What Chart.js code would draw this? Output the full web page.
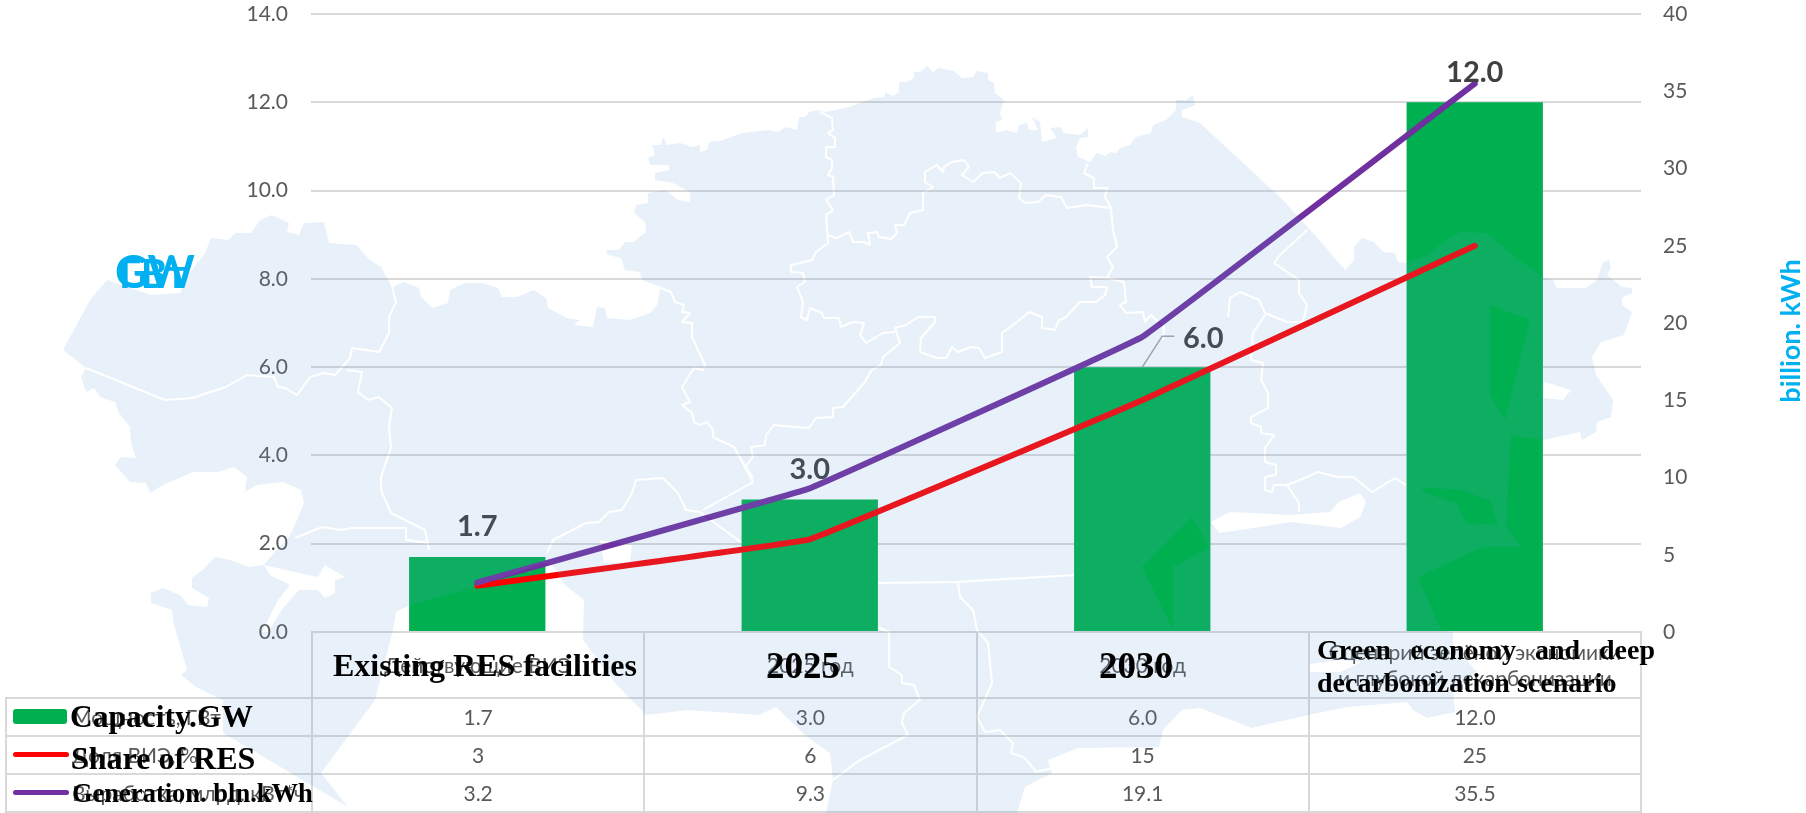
<!DOCTYPE html>
<html>
<head>
<meta charset="utf-8">
<title>RES capacity chart</title>
<script src="https://cdn.jsdelivr.net/npm/chart.js@4/dist/chart.umd.min.js"></script>
<style>
  html, body { margin: 0; padding: 0; background: #fff; overflow: hidden; }
  #page { position: relative; width: 1806px; height: 813px; overflow: hidden; font-family: Lato, "Noto Sans", sans-serif; }
  #priceCanvas, #map { position: absolute; left: 0; top: 0; }
  #map { pointer-events: none; }
  #data-table { position: absolute; left: 5px; top: 631px; width: 1637px; table-layout: fixed; border-collapse: collapse; color: #595959; font-size: 21px; }
  #data-table td { border: 2px solid #d9d9d9; text-align: center; padding: 0; height: 36px; line-height: 26px; }
  #data-table tr:first-child td { height: 64px; }
  #data-table td.blank { border: none; }
  #data-table td.name { text-align: left; position: relative; padding-left: 65px; white-space: nowrap; }
  .swatch { position: absolute; left: 6px; border-radius: 3px; }
  .en { position: absolute; font-family: "Liberation Serif", serif; font-weight: bold; color: #000; white-space: nowrap; transform: translateY(-50%); line-height: 1; }
  .unit { position: absolute; color: #00b0f0; font-weight: bold; white-space: nowrap; line-height: 1; }
</style>
</head>
<body>
<div id="page">
  <canvas id="priceCanvas" width="1806" height="813"></canvas>
  <table id="data-table"></table>

  <div class="unit" style="left:119px;top:253px;font-size:40px">ГВт</div>
  <div class="unit" style="left:115px;top:249px;font-size:45px">GW</div>
  <div class="unit" style="left:1776px;top:331px;font-size:27px;transform:translate(-50%,-50%) rotate(-90deg);transform-origin:center;margin-left:13px">billion. kWh</div>

  <!-- background map, sits on top of the chart at low opacity like in the original -->
  <svg id="map" width="1806" height="813" viewBox="0 0 1806 813">
    <mask id="land" maskUnits="userSpaceOnUse" x="0" y="0" width="1806" height="813">
      <polygon fill="#fff" points="63,350 90,300 107,280 151,295 180,293 188,275 205,253 211,238 228,240 236,233 251,233 260,220 272,215 289,223 287,232 299,235 304,223 324,222 329,243 356,245 370,260 381,267 392,287 404,282 419,288 421,297 433,308 448,303 450,290 465,283 482,283 498,288 502,297 517,297 534,290 546,298 548,308 567,318 580,320 574,325 593,327 597,307 605,308 607,318 630,320 650,313 657,305 659,295 661,287 642,280 640,272 625,270 621,258 608,255 606,250 619,250 625,242 633,242 646,232 645,222 634,213 636,205 648,203 648,193 665,190 678,200 690,202 690,192 673,183 655,180 655,173 669,170 669,165 650,165 648,158 655,155 652,145 661,145 663,137 667,145 680,143 692,147 700,145 700,152 707,150 709,142 720,141 742,133 768,130 778,132 786,127 797,130 799,117 805,117 809,112 818,110 826,112 849,107 874,98 885,97 885,92 893,96 899,92 899,82 906,82 914,78 914,72 920,72 927,66 933,72 939,68 954,71 962,78 973,77 977,71 988,73 988,80 994,83 995,93 1004,100 1000,113 1002,120 996,122 996,133 1006,130 1017,133 1019,125 1027,123 1029,130 1038,130 1032,117 1040,122 1042,142 1057,138 1050,128 1061,127 1063,133 1080,135 1088,128 1088,137 1080,138 1076,148 1078,157 1090,162 1097,153 1105,156 1111,152 1122,155 1122,162 1109,163 1120,148 1130,145 1136,137 1151,133 1153,125 1166,120 1176,110 1176,100 1186,100 1193,95 1195,105 1182,110 1182,117 1200,123 1240,160 1284,201 1322,243 1345,270 1354,260 1354,247 1362,238 1374,242 1383,252 1395,253 1398,262 1406,263 1427,255 1447,240 1460,232 1487,233 1510,253 1543,277 1553,280 1557,288 1586,288 1597,280 1603,262 1609,260 1611,268 1607,275 1622,287 1632,288 1632,293 1622,298 1622,305 1632,312 1624,335 1601,342 1592,357 1596,375 1613,400 1611,417 1597,422 1596,432 1582,440 1580,432 1544,440 1511,435 1506,527 1521,547 1483,547 1418,577 1441,630 1453,633 1453,645 1477,672 1453,692 1455,712 1427,718 1413,710 1407,702 1347,707 1308,715 1252,728 1200,708 1182,710 1163,730 1159,747 1078,748 1048,760 1052,773 1025,787 1017,813 826,813 833,780 830,753 807,737 776,707 759,715 688,710 646,715 615,683 583,640 584,600 565,585 552,565 544,563 475,587 410,605 396,612 393,630 375,700 321,773 348,807 223,733 223,700 196,687 181,675 187,670 174,625 172,610 151,603 151,593 163,588 180,595 188,605 207,607 209,598 192,588 192,578 205,568 215,557 230,560 249,567 264,565 272,555 289,537 297,520 304,503 301,490 283,482 257,485 245,492 247,477 234,467 218,472 193,472 163,485 150,493 146,483 130,482 115,465 121,457 136,458 131,443 130,427 119,413 115,402 100,397 94,388 86,392 81,377 86,368"/>
      <g fill="#000">
        <polygon points="264,565 290,571 318,577 325,565 345,577 335,580 335,593 325,598 318,590 299,590 283,608 268,632 262,632 278,600 290,585 270,575"/>
        <polygon points="1211,522 1230,512 1253,513 1291,515 1330,512 1339,502 1360,493 1366,502 1360,517 1341,528 1291,522 1253,528 1219,533"/>
        <polygon points="1544,382 1571,390 1563,400 1543,398"/>
        <polygon points="1310,664 1340,660 1362,662 1340,672 1310,672"/>
        <polygon points="1490,305 1530,320 1510,400 1505,420 1490,395"/>
        <polygon points="1421,487 1460,490 1490,500 1498,525 1467,523 1456,503 1425,493"/>
        <polygon points="1192,517 1209,547 1192,557 1173,567 1173,630 1142,567"/>
        <polygon points="600,540 632,545 630,562 604,563"/>
      </g>
      <g fill="none" stroke="#000" stroke-width="2" stroke-linejoin="round">
        <polyline points="86,368 165,400 192,398 226,387 247,375 274,377 278,387 285,388 297,395 310,377 324,373 335,375 350,358 352,348 379,352 389,333 389,317 396,302 392,287"/>
        <polyline points="347,370 362,372 358,392 368,400 379,397 392,408 389,427 391,448 381,477 381,490 391,513 425,530 429,550"/>
        <polyline points="295,538 322,527 341,530 352,528 379,528 406,528 406,540 429,543"/>
        <polyline points="547,553 553,540 586,523 599,522 609,512 622,510 632,493 636,480 663,478 678,493 686,510 700,512 742,543"/>
        <polyline points="703,510 753,482 740,458"/>
        <polyline points="745,467 753,457 751,447 765,445 766,435 774,425 795,427 809,428 816,418 833,417 833,408 843,407 864,383 872,370 881,365 883,357 900,343 895,328 906,325 918,317 935,317 935,322 921,338 920,352 937,358 946,358 952,347 958,352 971,347 979,348 985,358 1002,352 1002,333 1017,322 1029,312 1042,317 1042,328 1055,330 1059,320 1065,318 1080,302 1096,302 1105,295 1107,287 1092,287 1090,277 1107,278 1113,267 1107,257 1117,247 1113,230 1111,208 1105,197 1107,188 1094,188 1094,178 1084,173 1088,163"/>
        <polyline points="1107,278 1124,282 1126,302 1120,305 1126,313 1143,312 1145,322 1151,315 1164,327 1163,340"/>
        <polyline points="1111,208 1086,205 1067,208 1061,197 1046,195 1038,202 1025,203 1019,198 1021,183 1010,173 1000,178 994,172 983,173 973,182 962,175 969,167 964,160 952,162 944,167 943,172 937,165 925,172 925,182 933,187 923,193 923,210 910,213 904,225 895,225 897,233 891,239 879,237 877,232 868,233 870,245 864,242 853,242 849,232 837,238 828,235"/>
        <polyline points="820,112 832,118 833,130 828,133 835,138 835,147 826,147 826,157 832,160 832,168 828,175 833,177 834,195 826,200 833,210 826,215 828,243 816,252 812,260 791,265 791,272 803,273 805,282 797,287 803,302 801,317 807,320 810,308 822,313 824,318 839,318 841,327 853,322 864,323 860,335 866,343 883,333 895,332"/>
        <polyline points="661,288 671,292 675,302 684,305 682,312 690,313 682,322 692,323 692,337 705,365 703,370 694,368 682,387 690,402 682,405 692,413 694,422 700,425 707,422 713,430 713,437 734,447 740,458 753,478"/>
        <polyline points="1307,230 1280,255 1274,263 1299,280 1299,293 1307,305 1303,322 1287,322 1265,313 1259,300 1240,292 1230,298 1228,317"/>
        <polyline points="1265,315 1253,333 1251,360 1263,363 1261,380 1268,393 1268,408 1251,417 1251,423 1261,427 1261,433 1274,435 1265,448 1265,462 1276,465 1276,475 1265,477 1265,490 1272,492 1274,485 1287,485 1307,477 1318,472 1337,477 1353,477 1372,492 1395,478 1406,485"/>
        <polyline points="1287,485 1299,503 1299,512"/>
        <polyline points="877,583 956,582 1075,575"/>
        <polyline points="958,582 960,597 973,610 977,630 988,643 992,683 977,717 985,732 1000,730 1013,743 1011,753 1025,758 1036,772 1052,768"/>
        <polyline points="877,627 889,632 889,667 902,675 902,683 914,685 920,700 904,713 902,723 908,735 860,760 833,780"/>
      </g>
    </mask>
    <rect width="1806" height="813" fill="#5b9bd5" fill-opacity="0.14" mask="url(#land)"/>
  </svg>

  <div class="en" style="left:333px;top:665px;font-size:32px">Existing RES facilities</div>
  <div class="en" style="left:766px;top:665px;font-size:37px">2025</div>
  <div class="en" style="left:1099px;top:665px;font-size:37px">2030</div>
  <div class="en" style="left:1317px;top:650px;font-size:28px;word-spacing:12px">Green economy and deep</div>
  <div class="en" style="left:1317px;top:683px;font-size:28px">decarbonization scenario</div>
  <div class="en" style="left:70px;top:717px;font-size:31.5px">Capacity.GW</div>
  <div class="en" style="left:71px;top:758px;font-size:32px">Share of RES</div>
  <div class="en" style="left:72px;top:793px;font-size:26.5px">Generation. bln.kWh</div>
</div>

<script>
const categories = ['Действующие ВИЭ', '2025 год', '2030 год', 'Сценарий зелёной экономики<br>и глубокой декарбонизации'];
const seriesNames = ['Мощность, ГВт', 'Доля ВИЭ, %', 'Выработка, млрд. кВт*ч'];

const capacity = [1.7, 3.0, 6.0, 12.0];
const shareRes = [3, 6, 15, 25];
const generation = [3.2, 9.3, 19.1, 35.5];

const GREEN = '#00b050';
const RED = '#ff0000';
const PURPLE = '#7030a0';

// Data labels over the bars, 6.0 is pulled aside with a leader line
const barLabels = {
  id: 'barLabels',
  afterDatasetsDraw(chart) {
    const ctx = chart.ctx;
    const bars = chart.getDatasetMeta(0).data;
    ctx.save();
    ctx.font = 'bold 29px Lato';
    ctx.fillStyle = '#404040';
    ctx.textAlign = 'center';
    ctx.textBaseline = 'middle';
    bars.forEach((bar, i) => {
      let x = bar.x;
      let y = bar.y - 30;
      if (i === 2) {
        x = bar.x + 61;
        y = bar.y - 29;
        ctx.strokeStyle = '#a6a6a6';
        ctx.lineWidth = 1.5;
        ctx.beginPath();
        ctx.moveTo(bar.x, bar.y);
        ctx.lineTo(bar.x + 20, bar.y - 31);
        ctx.lineTo(bar.x + 32, bar.y - 31);
        ctx.stroke();
      }
      ctx.fillText(capacity[i].toFixed(1), x, y);
    });
    ctx.restore();
  }
};

const ctx = document.getElementById('priceCanvas').getContext('2d');
const chart = new Chart(ctx, {
  data: {
    labels: categories,
    datasets: [
      { type: 'bar', label: seriesNames[0], data: capacity, yAxisID: 'y', backgroundColor: GREEN, barPercentage: 0.41, categoryPercentage: 1, order: 3 },
      { type: 'line', label: seriesNames[1], data: shareRes, yAxisID: 'y1', borderColor: RED, borderWidth: 6, pointRadius: 0, borderCapStyle: 'round', borderJoinStyle: 'round', tension: 0.04, order: 2 },
      { type: 'line', label: seriesNames[2], data: generation, yAxisID: 'y1', borderColor: PURPLE, borderWidth: 6, pointRadius: 0, borderCapStyle: 'round', borderJoinStyle: 'round', tension: 0.04, order: 1 },
    ],
  },
  options: {
    responsive: false,
    animation: false,
    layout: { padding: { top: 14, bottom: 181 } },
    plugins: { legend: { display: false }, tooltip: { enabled: false } },
    scales: {
      x: { display: false, offset: true },
      y: {
        position: 'left',
        min: 0,
        max: 14,
        ticks: { stepSize: 2, padding: 23, color: '#595959', font: { family: 'Lato', size: 21 }, callback: v => v.toFixed(1) },
        grid: { color: '#d9d9d9', lineWidth: 2, drawTicks: false },
        border: { display: false },
        afterFit: scale => { scale.width = 311; scale.paddingTop = 0; scale.paddingBottom = 0; },
      },
      y1: {
        position: 'right',
        min: 0,
        max: 40,
        ticks: { stepSize: 5, padding: 22, color: '#595959', font: { family: 'Lato', size: 21 } },
        grid: { display: false, drawTicks: false },
        border: { display: false },
        afterFit: scale => { scale.width = 165; scale.paddingTop = 0; scale.paddingBottom = 0; },
      },
    },
  },
  plugins: [barLabels],
});

// Data table under the plot
function buildTable() {
  const table = document.getElementById('data-table');
  let html = '<colgroup><col style="width:306px"><col><col><col><col></colgroup>';
  html += '<tr><td class="blank"></td>' + categories.map(c => `<td>${c}</td>`).join('') + '</tr>';
  const rows = [
    { values: capacity.map(v => v.toFixed(1)), swatch: `top:10px;width:54px;height:15px;background:${GREEN}` },
    { values: shareRes.map(String), swatch: `top:15px;width:56px;height:5px;background:${RED}` },
    { values: generation.map(v => v.toFixed(1)), swatch: `top:15px;width:56px;height:5px;background:${PURPLE}` },
  ];
  rows.forEach((row, i) => {
    html += `<tr><td class="name"><span class="swatch" style="${row.swatch}"></span>${seriesNames[i]}</td>`;
    html += row.values.map(v => `<td>${v}</td>`).join('') + '</tr>';
  });
  table.innerHTML = html;
}

buildTable();
</script>
</body>
</html>
